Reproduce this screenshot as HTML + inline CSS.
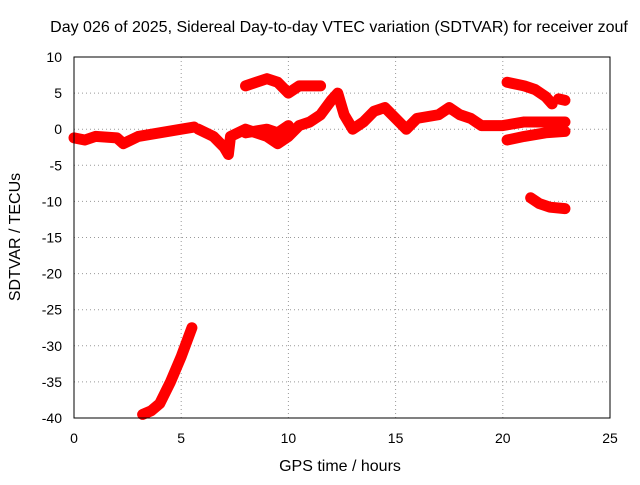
<!DOCTYPE html>
<html><head><meta charset="utf-8"><style>
body{margin:0;background:#fff;}
svg{font-family:"Liberation Sans",sans-serif;font-size:14px;}
</style></head><body>
<svg id="chart" width="640" height="480" xmlns="http://www.w3.org/2000/svg">
<rect width="640" height="480" fill="#fff"/>
<text x="339" y="32" text-anchor="middle" font-size="16">Day 026 of 2025, Sidereal Day-to-day VTEC variation (SDTVAR) for receiver zouf</text>
<text x="340" y="471" text-anchor="middle" font-size="16">GPS time / hours</text>
<text transform="translate(20,237) rotate(-90)" text-anchor="middle" font-size="16">SDTVAR / TECUs</text>
<g id="grid"></g><g id="marks"></g>
<rect x="74" y="57" width="536" height="361" fill="none" stroke="#000"/>
</svg>
<script>
const xTicks=[0,5,10,15,20,25];
const yTicks=[10,5,0,-5,-10,-15,-20,-25,-30,-35,-40];
const seriesMain=[[0,-1.2],[0.5,-1.5],[1,-1],[2,-1.2],[2.3,-2],[3,-1],[4,-0.5],[5,0],[5.6,0.3]];
const seriesMid=[[5.8,0],[6.5,-1],[7,-2.5],[7.2,-3.5],[7.3,-1],[8,0],[9,-1],[9.5,-2],[10,-1],[10.5,0.5],[11,1],[11.5,2],[12,4],[12.3,5],[12.6,2],[13,0],[13.5,1],[14,2.5],[14.5,3],[15,1.5],[15.5,0],[16,1.5],[17,2],[17.5,3],[18,2],[18.5,1.5],[19,0.5],[20,0.5],[21,1],[22.9,1]];
const seriesMid2=[[8,-0.5],[9,0],[9.5,-0.5],[10,0.5]];
const seriesUpper=[[8,6],[8.5,6.5],[9,7],[9.5,6.5],[10,5],[10.5,6],[11,6],[11.5,6]];
const seriesLate1=[[20.2,6.5],[21,6],[21.5,5.5],[22,4.5],[22.3,3.5]];
const seriesLate2=[[22.6,4.2],[22.9,4]];
const seriesLate3=[[20.2,-1.5],[21,-1],[22,-0.5],[22.9,-0.3]];
const seriesLate4=[[21.3,-9.5],[21.7,-10.3],[22.2,-10.8],[22.9,-11]];
const seriesLow=[[3.2,-39.5],[3.6,-39],[4,-38],[4.5,-35],[5,-31.5],[5.5,-27.5]];
const X=v=>74+v*536/25, Y=v=>57+(10-v)*361/50;
const ns="http://www.w3.org/2000/svg";
const g=document.getElementById('grid'), m=document.getElementById('marks');
function mk(t,a,p){const e=document.createElementNS(ns,t);for(const k in a)e.setAttribute(k,a[k]);p.appendChild(e);return e;}
xTicks.forEach(v=>{
 if(v>0&&v<25){const l=mk('line',{x1:X(v),x2:X(v),y1:57,y2:418,stroke:'#999','stroke-dasharray':'1,3'},g);
 
 }
 const t=mk('text',{x:X(v),y:443,'text-anchor':'middle'},g);t.textContent=v;
 
 
});
yTicks.forEach(v=>{
 if(v<10&&v>-40){const l=mk('line',{x1:74,x2:610,y1:Y(v),y2:Y(v),stroke:'#999','stroke-dasharray':'1,3'},g);
 
 }
 const t=mk('text',{x:62,y:Y(v)+5,'text-anchor':'end'},g);t.textContent=v;
 
 
});
[seriesMain,seriesMid,seriesMid2,seriesUpper,seriesLate1,seriesLate2,seriesLate3,seriesLate4,seriesLow].forEach(s=>{
 const p=mk('polyline',{points:s.map(d=>X(d[0])+','+Y(d[1])).join(' '),fill:'none',stroke:'#f00','stroke-width':11,'stroke-linejoin':'round','stroke-linecap':'round'},m);
 
 
});
</script>
</body></html>
